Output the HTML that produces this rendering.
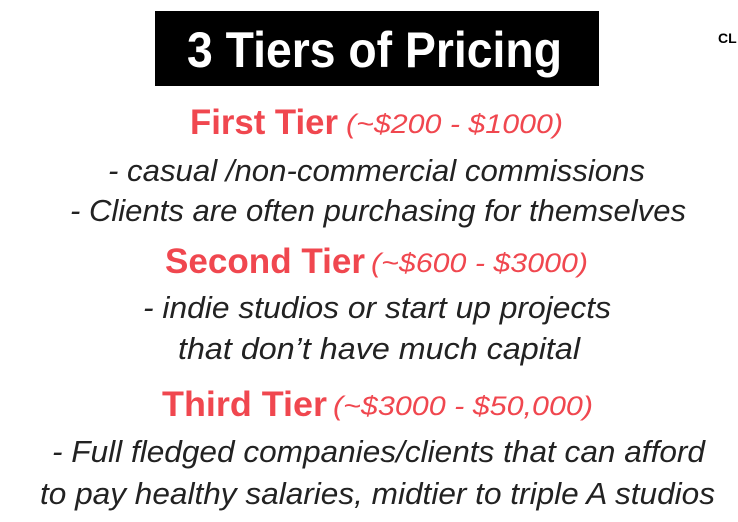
<!DOCTYPE html>
<html><head><meta charset="utf-8"><style>
html,body{margin:0;padding:0;background:#fff;width:738px;height:522px;overflow:hidden}
svg{display:block}
.t{font-family:"Liberation Sans",sans-serif}
.r{fill:#f0474f;font-weight:bold}
.ri{fill:#f0474f;font-style:italic}
.b{fill:#222;font-style:italic}
</style></head><body>
<svg width="738" height="522" viewBox="0 0 738 522">
<rect x="155" y="11" width="444" height="75" fill="#000"/>
<text class="t" x="187" y="67" font-size="50" font-weight="bold" fill="#fff" textLength="375" lengthAdjust="spacingAndGlyphs">3 Tiers of Pricing</text>
<text class="t" x="718" y="43" font-size="14" font-weight="bold" fill="#000">CL</text>

<text class="t r" x="190" y="134" font-size="35" textLength="148" lengthAdjust="spacingAndGlyphs">First Tier</text>
<text class="t ri" x="346" y="133" font-size="27" textLength="217" lengthAdjust="spacingAndGlyphs">(~$200 - $1000)</text>
<text class="t b" x="108" y="181" font-size="31" textLength="537" lengthAdjust="spacingAndGlyphs">- casual /non-commercial commissions</text>
<text class="t b" x="70" y="221" font-size="31" textLength="616" lengthAdjust="spacingAndGlyphs">- Clients are often purchasing for themselves</text>

<text class="t r" x="165" y="273" font-size="35" textLength="200" lengthAdjust="spacingAndGlyphs">Second Tier</text>
<text class="t ri" x="371" y="272" font-size="27" textLength="217" lengthAdjust="spacingAndGlyphs">(~$600 - $3000)</text>
<text class="t b" x="143" y="318" font-size="31" textLength="468" lengthAdjust="spacingAndGlyphs">-  indie studios or start up projects</text>
<text class="t b" x="178" y="359" font-size="31" textLength="402" lengthAdjust="spacingAndGlyphs">that don’t have much capital</text>

<text class="t r" x="162" y="416" font-size="35" textLength="165" lengthAdjust="spacingAndGlyphs">Third Tier</text>
<text class="t ri" x="333" y="415" font-size="27" textLength="260" lengthAdjust="spacingAndGlyphs">(~$3000 - $50,000)</text>
<text class="t b" x="52" y="462" font-size="31" textLength="653" lengthAdjust="spacingAndGlyphs">- Full fledged companies/clients that can afford</text>
<text class="t b" x="40" y="504" font-size="31" textLength="675" lengthAdjust="spacingAndGlyphs">to pay healthy salaries, midtier to triple A studios</text>
</svg>
</body></html>
